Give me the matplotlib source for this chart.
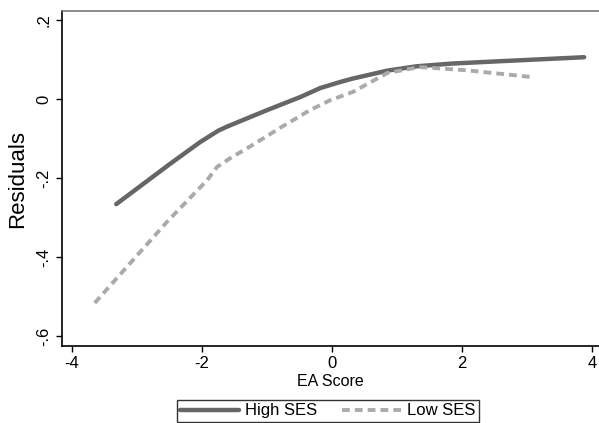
import numpy as np
import matplotlib
matplotlib.use("Agg")
from matplotlib import pyplot as plt

plt.rcParams['font.family'] = ['Liberation Sans', 'DejaVu Sans']

# residuals by EA score, two SES groups
high_x = [-3.32, -2.5, -2.03, -1.75, -1.62, -1.0, -0.49, -0.18, 0.12, 0.32, 0.85, 1.3, 1.85, 2.6, 3.88]
high_y = [-0.266, -0.165, -0.109, -0.08, -0.07, -0.028, 0.005, 0.028, 0.043, 0.052, 0.072, 0.083, 0.09, 0.096, 0.106]

low_x = [-3.65, -2.54, -1.92, -1.77, -1.57, -1.26, -0.8, -0.34, -0.03, 0.32, 0.85, 1.35, 2.07, 3.06]
low_y = [-0.516, -0.311, -0.205, -0.172, -0.15, -0.12, -0.073, -0.028, -0.003, 0.018, 0.066, 0.081, 0.073, 0.056]

xticks = [-4, -2, 0, 2, 4]
xlabels = ['-4', '-2', '0', '2', '4']
yticks = [-0.6, -0.4, -0.2, 0, 0.2]
ylabels = ['-.6', '-.4', '-.2', '0', '.2']

fig = plt.figure(figsize=(5.99, 4.23), dpi=100)
W, H = 599, 423
# axes from x=62 to right edge, y=11 to 346
ax = fig.add_axes([62 / W, (H - 346) / H, (W - 62) / W, (346 - 11) / H])

ax.plot(high_x, high_y, color='#666666', lw=3.2, solid_capstyle='round',
        solid_joinstyle='round', label='High SES')
ax.plot(low_x, low_y, color='#aaaaaa', lw=2.8, dashes=(2.0, 1.3), label='Low SES')

ax.set_xlim(-4.154, 4.108)
ax.set_ylim(-0.625, 0.223)
ax.set_xticks(xticks)
ax.set_xticklabels(xlabels)
ax.set_yticks(yticks)
ax.set_yticklabels(ylabels, rotation=90, va='center')
ax.tick_params(labelsize=12, length=4, width=1, color='black')

ax.spines['right'].set_visible(False)
ax.spines['top'].set_color('#777777')
ax.spines['top'].set_linewidth(1.2)
ax.spines['left'].set_linewidth(1.2)
ax.spines['bottom'].set_linewidth(1.2)

ax.set_xlabel('EA Score', fontsize=11.5, labelpad=2)
ax.set_ylabel('Residuals', fontsize=16, labelpad=6)

leg = fig.legend(loc='upper left', bbox_to_anchor=(177 / W, 1 - 400 / H),
                 ncol=2, fontsize=12, frameon=True, fancybox=False,
                 handlelength=3.5, columnspacing=1.5, borderpad=0.2,
                 handletextpad=0.4, borderaxespad=0)
leg.get_frame().set_edgecolor('black')
leg.get_frame().set_linewidth(1.0)

fig.savefig('out.png', dpi=100)
